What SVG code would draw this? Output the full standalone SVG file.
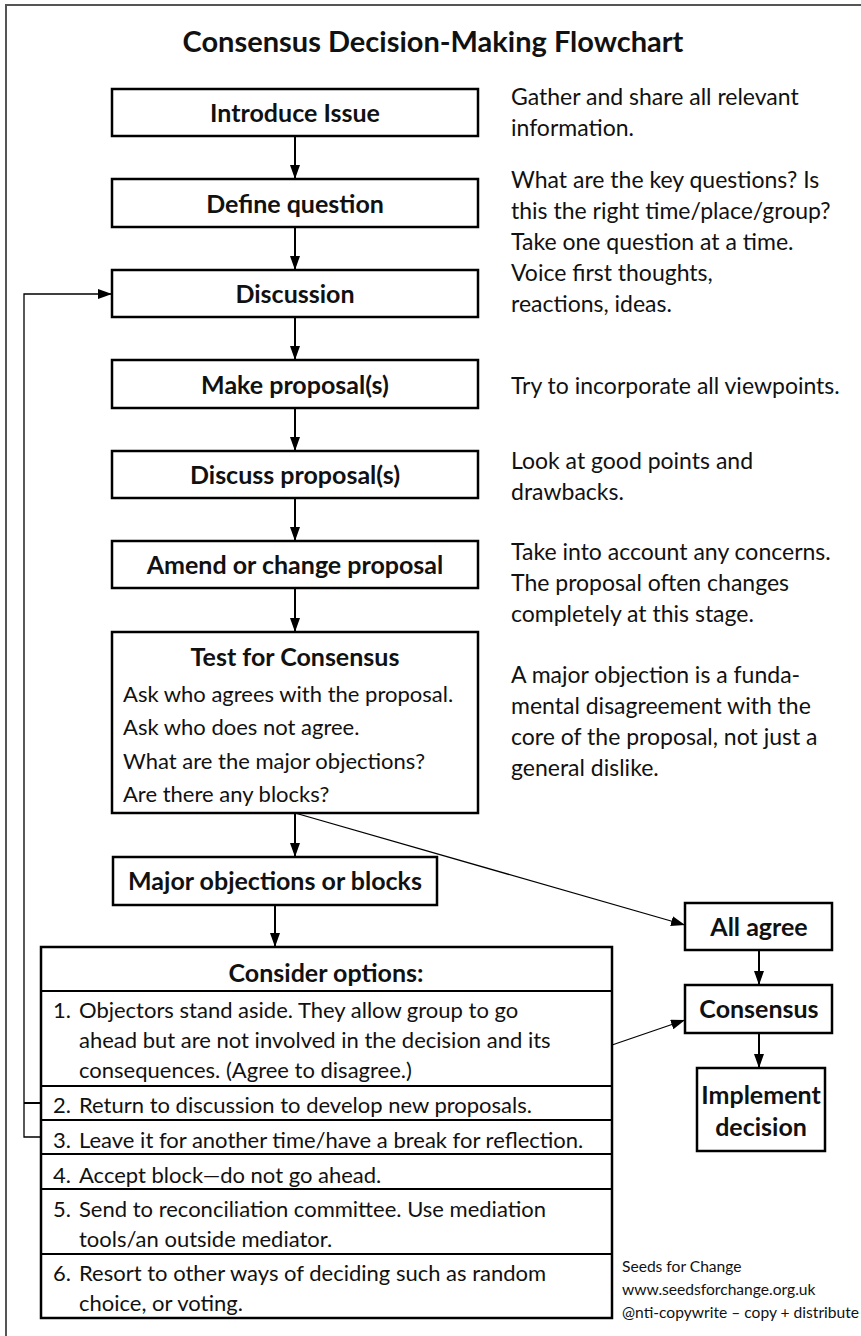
<svg xmlns="http://www.w3.org/2000/svg" width="861" height="1336" viewBox="0 0 861 1336">
<style>
.box{fill:#fff;stroke:#000;stroke-width:2.5}
.sep{stroke:#000;stroke-width:1.8}
.lbl{font-family:Lato,"Liberation Sans",sans-serif;font-weight:bold;font-size:25px;text-anchor:middle;fill:#111}
.txt{font-family:Lato,"Liberation Sans",sans-serif;font-size:22px;fill:#111}
.note{font-family:Lato,"Liberation Sans",sans-serif;font-size:23px;fill:#111}
.foot{font-family:Lato,"Liberation Sans",sans-serif;font-size:15.6px;fill:#111}
.con{fill:none;stroke:#000;stroke-width:2}
.thin{fill:none;stroke:#000;stroke-width:1.3}
</style>
<defs>
<marker id="ah" viewBox="0 0 14 10" refX="14" refY="5" markerWidth="14" markerHeight="10" markerUnits="userSpaceOnUse" orient="auto">
<path d="M0,0 L14,5 L0,10 z" fill="#000"/>
</marker>
</defs>
<rect width="861" height="1336" fill="#fff"/>
<path d="M6,1336 V5 H861" fill="none" stroke="#555" stroke-width="2"/>
<text x="433" y="52" font-family="Lato,'Liberation Sans',sans-serif" font-weight="bold" font-size="29" text-anchor="middle" fill="#111">Consensus Decision-Making Flowchart</text>

<g id="connectors">
<line class="con" x1="295" y1="136" x2="295" y2="179" marker-end="url(#ah)"/>
<line class="con" x1="295" y1="227" x2="295" y2="270" marker-end="url(#ah)"/>
<line class="con" x1="295" y1="317" x2="295" y2="360" marker-end="url(#ah)"/>
<line class="con" x1="295" y1="408" x2="295" y2="451" marker-end="url(#ah)"/>
<line class="con" x1="295" y1="498" x2="295" y2="541" marker-end="url(#ah)"/>
<line class="con" x1="295" y1="588" x2="295" y2="632" marker-end="url(#ah)"/>
<line class="con" x1="295" y1="813" x2="295" y2="857" marker-end="url(#ah)"/>
<line class="con" x1="275" y1="905" x2="275" y2="947" marker-end="url(#ah)"/>
<line class="con" x1="759" y1="950" x2="759" y2="985" marker-end="url(#ah)"/>
<line class="con" x1="759" y1="1033" x2="759" y2="1068" marker-end="url(#ah)"/>
<line class="thin" x1="295" y1="813" x2="685" y2="925" marker-end="url(#ah)"/>
<line class="thin" x1="612" y1="1045" x2="685" y2="1020" marker-end="url(#ah)"/>
<polyline class="thin" points="41,1137 24,1137 24,294 112,294" marker-end="url(#ah)"/>
<line class="con" x1="24" y1="1103" x2="41" y2="1103"/>
</g>

<g id="introduce"><rect class="box" x="112" y="89" width="366" height="47"/><text class="lbl" x="295" y="122">Introduce Issue</text></g>
<g id="define"><rect class="box" x="112" y="179" width="366" height="48"/><text class="lbl" x="295" y="213">Define question</text></g>
<g id="discussion"><rect class="box" x="112" y="270" width="366" height="47"/><text class="lbl" x="295" y="303">Discussion</text></g>
<g id="make"><rect class="box" x="112" y="360" width="366" height="48"/><text class="lbl" x="295" y="394">Make proposal(s)</text></g>
<g id="discuss"><rect class="box" x="112" y="451" width="366" height="47"/><text class="lbl" x="295" y="484">Discuss proposal(s)</text></g>
<g id="amend"><rect class="box" x="112" y="541" width="366" height="47"/><text class="lbl" x="295" y="574">Amend or change proposal</text></g>
<g id="test"><rect class="box" x="112" y="632" width="366" height="181"/>
<text class="lbl" x="295" y="666">Test for Consensus</text>
<text class="txt" x="123" y="702">Ask who agrees with the proposal.</text>
<text class="txt" x="123" y="735">Ask who does not agree.</text>
<text class="txt" x="123" y="769">What are the major objections?</text>
<text class="txt" x="123" y="802">Are there any blocks?</text>
</g>
<g id="major"><rect class="box" x="113" y="857" width="324" height="48"/><text class="lbl" x="275" y="890">Major objections or blocks</text></g>
<g id="allagree"><rect class="box" x="685" y="903" width="147" height="47"/><text class="lbl" x="759" y="936" font-size="26">All agree</text></g>
<g id="consensus"><rect class="box" x="685" y="985" width="147" height="48"/><text class="lbl" x="759" y="1018" font-size="26">Consensus</text></g>
<g id="implement"><rect class="box" x="697" y="1068" width="128" height="83"/><text class="lbl" x="761" y="1104" font-size="26">Implement</text><text class="lbl" x="761" y="1136" font-size="26">decision</text></g>

<g id="options">
<rect class="box" x="41" y="947" width="571" height="371"/>
<line class="sep" x1="41" y1="991" x2="612" y2="991"/>
<line class="sep" x1="41" y1="1086" x2="612" y2="1086"/>
<line class="sep" x1="41" y1="1120" x2="612" y2="1120"/>
<line class="sep" x1="41" y1="1154" x2="612" y2="1154"/>
<line class="sep" x1="41" y1="1189" x2="612" y2="1189"/>
<line class="sep" x1="41" y1="1254" x2="612" y2="1254"/>
<text class="lbl" x="326" y="982">Consider options:</text>
<text class="txt" x="53" y="1018">1.</text><text class="txt" x="79" y="1018">Objectors stand aside. They allow group to go</text>
<text class="txt" x="79" y="1048">ahead but are not involved in the decision and its</text>
<text class="txt" x="79" y="1078">consequences. (Agree to disagree.)</text>
<text class="txt" x="53" y="1113">2.</text><text class="txt" x="79" y="1113">Return to discussion to develop new proposals.</text>
<text class="txt" x="53" y="1148">3.</text><text class="txt" x="79" y="1148">Leave it for another time/have a break for reflection.</text>
<text class="txt" x="53" y="1183">4.</text><text class="txt" x="79" y="1183">Accept block—do not go ahead.</text>
<text class="txt" x="53" y="1217">5.</text><text class="txt" x="79" y="1217">Send to reconciliation committee. Use mediation</text>
<text class="txt" x="79" y="1247">tools/an outside mediator.</text>
<text class="txt" x="53" y="1281">6.</text><text class="txt" x="79" y="1281">Resort to other ways of deciding such as random</text>
<text class="txt" x="79" y="1311">choice, or voting.</text>
</g>

<g id="notes">
<text class="note" x="511" y="105">Gather and share all relevant</text>
<text class="note" x="511" y="136">information.</text>
<text class="note" x="511" y="188">What are the key questions? Is</text>
<text class="note" x="511" y="219">this the right time/place/group?</text>
<text class="note" x="511" y="250">Take one question at a time.</text>
<text class="note" x="511" y="281">Voice first thoughts,</text>
<text class="note" x="511" y="312">reactions, ideas.</text>
<text class="note" x="511" y="394">Try to incorporate all viewpoints.</text>
<text class="note" x="511" y="469">Look at good points and</text>
<text class="note" x="511" y="500">drawbacks.</text>
<text class="note" x="511" y="560">Take into account any concerns.</text>
<text class="note" x="511" y="591">The proposal often changes</text>
<text class="note" x="511" y="622">completely at this stage.</text>
<text class="note" x="511" y="683">A major objection is a funda-</text>
<text class="note" x="511" y="714">mental disagreement with the</text>
<text class="note" x="511" y="745">core of the proposal, not just a</text>
<text class="note" x="511" y="776">general dislike.</text>
</g>

<g id="footer">
<text class="foot" x="622" y="1272">Seeds for Change</text>
<text class="foot" x="622" y="1295">www.seedsforchange.org.uk</text>
<text class="foot" x="622" y="1318">@nti-copywrite – copy + distribute</text>
</g>
</svg>
